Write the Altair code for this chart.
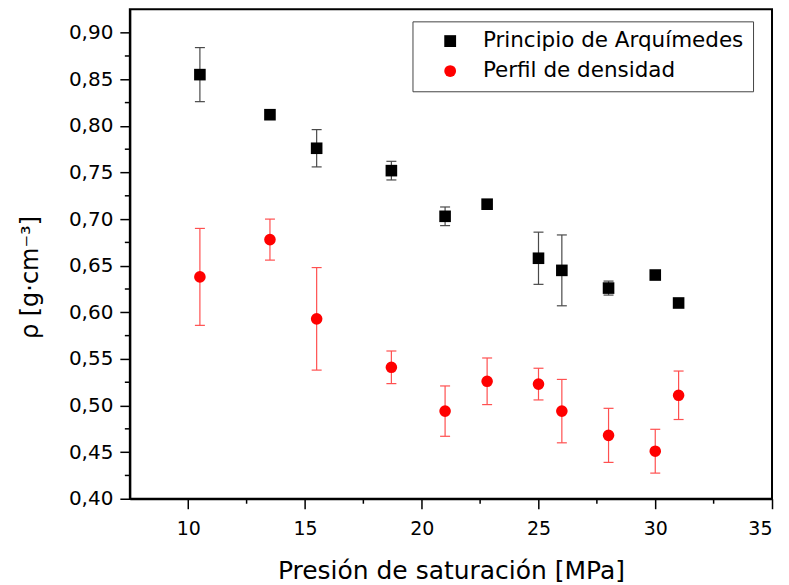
import altair as alt
import pandas as pd

series = ["Principio de Arquímedes", "Perfil de densidad"]
pres = [10.5, 13.5, 15.5, 18.7, 21.0, 22.8, 25.0, 26.0, 28.0, 30.0, 31.0]
arq = [0.855, 0.812, 0.776, 0.752, 0.703, 0.716, 0.658, 0.645, 0.626, 0.640, 0.610]
arq_err = [0.029, 0.004, 0.020, 0.010, 0.010, 0.0, 0.028, 0.038, 0.0075, 0.0, 0.0]
perf = [0.638, 0.678, 0.593, 0.541, 0.494, 0.526, 0.523, 0.494, 0.468, 0.451, 0.511]
perf_err = [0.052, 0.022, 0.055, 0.0175, 0.027, 0.025, 0.017, 0.034, 0.029, 0.0235, 0.026]
err_colors = ["#4a4a4a", "#ff5050"]

x_major = [10, 15, 20, 25, 30, 35]
x_minor = [12.5, 17.5, 22.5, 27.5, 32.5]
y_major = [0.40, 0.45, 0.50, 0.55, 0.60, 0.65, 0.70, 0.75, 0.80, 0.85, 0.90]
y_minor = [0.425, 0.475, 0.525, 0.575, 0.625, 0.675, 0.725, 0.775, 0.825, 0.875]

rows = []
for x, y, e in zip(pres, arq, arq_err):
    rows.append({"serie": series[0], "x": x, "y": y, "lo": y - e, "hi": y + e})
for x, y, e in zip(pres, perf, perf_err):
    rows.append({"serie": series[1], "x": x, "y": y, "lo": y - e, "hi": y + e})
df = pd.DataFrame(rows)

FONT = "DejaVu Sans"
W, H = 643, 490

xscale = alt.Scale(domain=[7.5, 35], nice=False, zero=False)
yscale = alt.Scale(domain=[0.40, 0.925], nice=False, zero=False)

xaxis = alt.Axis(
    title="Presión de saturación [MPa]",
    values=x_major, format="d",
    tickSize=10, grid=False, domainColor="black", domainWidth=2, tickColor="black", tickWidth=1.5,
    labelFontSize=19, labelColor="black", labelPadding=11, labelFont=FONT,
    titleFontSize=25, titleFont=FONT, titleFontWeight="normal", titleColor="black",
    titlePadding=20,
)
yaxis = alt.Axis(
    title="ρ [g·cm⁻³]",
    values=y_major,
    labelExpr="replace(format(datum.value, '.2f'), '.', ',')",
    tickSize=10, grid=False, domainColor="black", domainWidth=2, tickColor="black", tickWidth=1.5,
    labelFontSize=20, labelColor="black", labelPadding=7, labelFont=FONT,
    titleFontSize=24, titleFont=FONT, titleFontWeight="normal", titleColor="black",
    titlePadding=26, titleY=268,
)

leg = alt.Legend(
    title=None, orient="none", legendX=283, legendY=12,
    fillColor="white", strokeColor="#444", padding=9,
    labelFontSize=21.5, labelFont=FONT, labelColor="black", labelLimit=400,
    symbolOffset=18, labelOffset=22, rowPadding=7, symbolSize=140,
)

base = alt.Chart(df)

layers = []
for s, c in zip(series, err_colors):
    sub = base.transform_filter(alt.datum.serie == s)
    layers.append(sub.mark_rule(strokeWidth=1.2, color=c).encode(
        x=alt.X("x:Q", scale=xscale, axis=xaxis),
        y=alt.Y("lo:Q", scale=yscale, axis=yaxis),
        y2="hi:Q",
    ))
    for f in ["hi", "lo"]:
        layers.append(sub.mark_rule(strokeWidth=1.2, color=c, xOffset=-5, x2Offset=5).encode(
            x=alt.X("x:Q", scale=xscale), x2="x:Q",
            y=alt.Y(f + ":Q", scale=yscale),
        ))

pts = base.mark_point(filled=True, opacity=1, size=135).encode(
    x=alt.X("x:Q", scale=xscale),
    y=alt.Y("y:Q", scale=yscale),
    color=alt.Color("serie:N", scale=alt.Scale(domain=series, range=["black", "red"]), legend=leg),
    shape=alt.Shape("serie:N", scale=alt.Scale(domain=series, range=["square", "circle"]), legend=leg),
)
layers.append(pts)

layers.append(alt.Chart(pd.DataFrame({"v": x_minor})).mark_rule(color="black", strokeWidth=1.5).encode(
    x=alt.X("v:Q", scale=xscale), y=alt.value(H), y2=alt.value(H + 5)
))
layers.append(alt.Chart(pd.DataFrame({"v": y_minor})).mark_rule(color="black", strokeWidth=1.5).encode(
    y=alt.Y("v:Q", scale=yscale), x=alt.value(0), x2=alt.value(-5)
))

chart = (
    alt.layer(*layers)
    .properties(width=W, height=H, background="white",
                padding={"left": 10, "top": 1, "right": 8, "bottom": 4})
    .configure_view(stroke="black", strokeWidth=2)
)

chart.save("out.html", embed_options={"renderer": "svg", "actions": False})
